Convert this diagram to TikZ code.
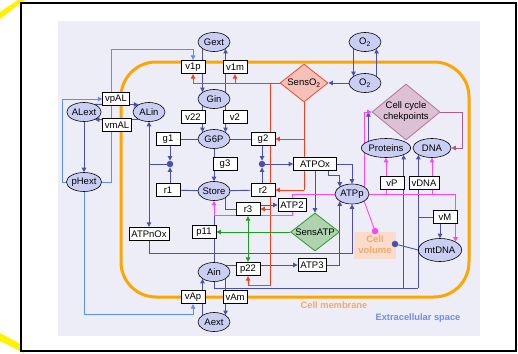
\documentclass[tikz,border=0pt]{standalone}
\usepackage{fontspec}
\setmainfont{Liberation Sans}
\usetikzlibrary{shapes.geometric,arrows.meta,calc}
\pgfdeclarelayer{bg}
\pgfdeclarelayer{edges}
\pgfsetlayers{bg,edges,main}
\definecolor{ellfill}{HTML}{C9CEF2}
\definecolor{lav}{HTML}{EDEDF8}
\definecolor{cblue}{HTML}{4A50B2}
\definecolor{clblue}{HTML}{5B8FF5}
\definecolor{cred}{HTML}{FF3A1A}
\definecolor{cgreen}{HTML}{1E9E1E}
\definecolor{cmag}{HTML}{FF44FF}
\definecolor{cmauve}{HTML}{B05A8A}
\definecolor{memb}{HTML}{FFA500}
\definecolor{membtxt}{HTML}{F5A86E}
\definecolor{extxt}{HTML}{6E8CF0}
\definecolor{volfill}{HTML}{F9DCCC}
\definecolor{sofill}{HTML}{F5C0B8}
\definecolor{sodraw}{HTML}{F04A2A}
\definecolor{ccfill}{HTML}{DCC0D3}
\definecolor{ccdraw}{HTML}{B5719A}
\definecolor{safill}{HTML}{AED3AE}
\definecolor{sadraw}{HTML}{2E9A2E}
\definecolor{yel}{HTML}{FFF200}
\begin{document}
\begin{tikzpicture}[x=1pt,y=-1pt,
  every node/.style={font=\fontsize{9.5}{11}\selectfont},
  ell/.style={ellipse,draw=black,line width=0.6pt,fill=ellfill,minimum width=32pt,minimum height=19pt,inner sep=0pt},
  box/.style={rectangle,draw=black,line width=0.8pt,fill=white,minimum width=24pt,minimum height=13.5pt,inner xsep=2.5pt,inner ysep=0pt},
  dia/.style={diamond,inner sep=0pt,line width=0.8pt},
  arr/.style={-{Triangle[length=4.5pt,width=4.5pt]}},
  lnb/.style={draw=cblue,line width=0.9pt},
  lnlb/.style={draw=clblue,line width=0.9pt},
  lnr/.style={draw=cred,line width=0.9pt},
  lng/.style={draw=cgreen,line width=0.9pt},
  lnm/.style={draw=cmag,line width=0.9pt},
  lnv/.style={draw=cmauve,line width=0.9pt},
  jdot/.style={circle,fill=cblue,inner sep=0pt,minimum size=6.5pt},
  pdot/.style={circle,fill=cmag,inner sep=0pt,minimum size=6.5pt}
]
\useasboundingbox (0,0) rectangle (518,353);
% background
\begin{pgfonlayer}{bg}
\fill[yel] (0,12) -- (18,0) -- (25,0) -- (0,19) -- cycle;
\fill[yel] (0,333) -- (24,346) -- (24,353) -- (0,341) -- cycle;
\draw[line width=2.4pt,fill=white] (21,3) rectangle (516,351);
\fill[lav] (58,21) rectangle (480,336);
\draw[memb,line width=3pt,rounded corners=35pt] (121,62) rectangle (469,297);
\end{pgfonlayer}

% ellipses
\node[ell] (Gext) at (214,42) {Gext};
\node[ell] (Gin) at (214,99) {Gin};
\node[ell] (G6P) at (214,139) {G6P};
\node[ell] (Store) at (214,191) {Store};
\node[ell] (Ain) at (214,272) {Ain};
\node[ell] (Aext) at (214,322) {Aext};
\node[ell] (ALext) at (84,112) {ALext};
\node[ell] (ALin) at (149,112) {ALin};
\node[ell] (pHext) at (84,182) {pHext};
\node[ell] (O2t) at (365,42) {O\textsubscript{2}};
\node[ell] (O2b) at (365,83) {O\textsubscript{2}};
\node[ell,minimum width=38pt] (Proteins) at (386,148) {Proteins};
\node[ell,minimum width=38pt] (DNA) at (432,148) {DNA};
\node[ell,minimum width=34pt,minimum height=20pt] (ATPp) at (352,194) {ATPp};
\node[ell,minimum width=40pt,minimum height=23pt] (mtDNA) at (440,250) {mtDNA};

% boxes
\node[box] (v1p) at (193,67) {v1p};
\node[box] (v1m) at (235,67) {v1m};
\node[box] (vpAL) at (116,99) {vpAL};
\node[box] (vmAL) at (117,125) {vmAL};
\node[box] (v22) at (193,117) {v22};
\node[box] (v2) at (235,117) {v2};
\node[box] (g1) at (168,139) {g1};
\node[box] (g2) at (263,139) {g2};
\node[box] (g3) at (225,164) {g3};
\node[box] (r1) at (168,190) {r1};
\node[box] (r2) at (263,190) {r2};
\node[box] (r3) at (248,209) {r3};
\node[box,minimum width=43pt] (ATPOx) at (315,164) {ATPOx};
\node[box] (ATP2) at (292,205) {ATP2};
\node[box] (ATPnOx) at (149,234) {ATPnOx};
\node[box] (p11) at (204,232) {p11};
\node[box] (p22) at (248,269) {p22};
\node[box] (ATP3) at (312,265) {ATP3};
\node[box] (vAp) at (193,297) {vAp};
\node[box] (vAm) at (235,297) {vAm};
\node[box] (vP) at (392,183) {vP};
\node[box] (vDNA) at (424,183) {vDNA};
\node[box] (vM) at (445,217) {vM};

% diamonds
\node[dia,draw=sodraw,fill=sofill,minimum width=48pt,minimum height=38pt] (SensO2) at (304,83) {\makebox[0pt]{SensO\textsubscript{2}}};
\node[dia,draw=ccdraw,fill=ccfill,minimum width=68pt,minimum height=56pt] (cc) at (406,112) {\makebox[0pt]{\begin{tabular}{@{}c@{}}Cell cycle\\chekpoints\end{tabular}}};
\node[dia,draw=sadraw,fill=safill,minimum width=49pt,minimum height=38pt] (SensATP) at (315,232) {\makebox[0pt]{SensATP}};

% cell volume
\node[fill=volfill,minimum width=42pt,minimum height=27pt,inner sep=0pt,text=membtxt,font=\fontsize{9.5}{11}\selectfont\bfseries,align=center] (vol) at (375,245) {Cell\\volume};

% dots
\node[jdot] (d1) at (170,164) {};
\node[jdot] (d2) at (262,164) {};
\node[pdot] (pd) at (375,231) {};
\node[jdot] (bd) at (395,244) {};

% labels
\node[text=membtxt,font=\fontsize{9.3}{11}\selectfont\bfseries] (lmemb) at (334,305) {Cell membrane};
\node[text=extxt,font=\fontsize{9.3}{11}\selectfont\bfseries] (lext) at (418,318) {Extracellular space};

% helper coordinates
\coordinate (m1) at (292,215);
\coordinate (bl) at (214,288);
\coordinate (ltop) at (111,49);
\coordinate (lbot) at (84,314);
\coordinate (rv) at (270,83);
\coordinate (rb) at (270,285);
\coordinate (gj) at (248,232);

\begin{pgfonlayer}{edges}
% glucose
\draw[lnb,arr] (Gext.south west) -- (Gin.north west);
\draw[lnb,arr] (Gin.north east) -- (Gext.south east);
\draw[lnb,arr] (Gin.south west) -- (G6P.north west);
\draw[lnb,arr] (Gin.south east) -- (G6P.north east);
\draw[lnb] (g1) -- (G6P) -- (g2);
\draw[lnb,arr] (G6P.south) -- (Store.north);
\draw[lnb] (r1) -- (Store) -- (r2);
\draw[lnb,arr] (g1.south -| d1) -- (d1.north);
\draw[lnb,arr] (r1.north -| d1) -- (d1.south);
\draw[lnb,arr] (g2.south -| d2) -- (d2.north);
\draw[lnb,arr] (r2.north -| d2) -- (d2.south);
\draw[lnb] (d1) -- (ALin |- d1);
\draw[lnb,arr] (ALin |- d1) -- (ALin.south);
\draw[lnb,arr] (ALin |- d1) -- (ATPnOx.north);
\draw[lnb,arr] (d2) -- (ATPOx.west);
% ATP
\draw[lnb,arr] (ATPOx.south) -- (SensATP.north);
\draw[lnb,arr] (ATPOx.east) -| (ATPp.north);
\draw[lnb,arr] ([xshift=13pt]ATPOx.south) -- ++(0,4) -| (ATPp.north west);
\draw[lnb,arr] (ATP3.east) -| (ATPp.south west);
\draw[lnb,arr] (ATPnOx.south) -- ++(0,12) -| (ATPp.south);
\draw[lnb,arr] (Ain.center |- ATP3.west) -- (ATP3.west);
\draw[lnb] (Ain.north) -- (Ain.north |- m1);
\draw[lnb] (Store.south east) |- (r3.west);
\draw[lnb,arr] (r3.east |- ATP2.west) -- (ATP2.west);
% A transport
\draw[lnb,arr] (Aext.north west) -- (Ain.south west);
\draw[lnb,arr] (Ain.south east) -- (Aext.north east);
\draw[lnb] (Ain.south) |- (DNA.south west |- bl);
\draw[lnb,arr] (Proteins.south east |- bl) -- (Proteins.south east);
\draw[lnb,arr] (DNA.south west |- bl) -- (DNA.south west);
\draw[lnb] (DNA.south west |- vM.west) -- (vM.west);
\draw[lnb,arr] (vM.south -| mtDNA.north) -- (mtDNA.north);
\draw[lnb] (mtDNA.west) -- (bd);
\draw[lnb,arr] (Proteins.north west) -- (Proteins.north west |- cc.west);
% O2
\draw[lnb,arr] (O2t.south west) -- (O2b.north west);
\draw[lnb,arr] (O2b.north east) -- (O2t.south east);
\draw[lnb,arr] (O2b.west) -- (SensO2.east);
% AL
\draw[lnb,arr] (ALext.south) -- (pHext.north);
\draw[lnb,arr] (ALext.35) -- (ALin.145);
\draw[lnb,arr] (ALin.215) -- (ALext.325);
\draw[lnlb,arr] (pHext.west) -- ++(-4,0) |- (vpAL.west);
\draw[lnlb,arr] (pHext.east) -| (ltop) -| (v1p.north);
\draw[lnlb,arr] (pHext.south) -- (lbot) -| (vAp.south);
% red
\draw[lnr] (SensO2.west) -- (v1p.south |- SensO2.west);
\draw[lnr,arr] (v1p.south |- SensO2.west) -- (v1p.south);
\draw[lnr,arr] (v1m.south |- SensO2.west) -- (v1m.south);
\draw[lnr,arr] (rv) -- (rb) -| (p22.south);
\draw[lnr,arr] (rv |- r3.east) -- (r3.east);
\draw[lnr] (SensO2.south) -- (SensO2.south |- r2.east);
\draw[lnr,arr] (SensO2.south |- g2.east) -- (g2.east);
\draw[lnr,arr] (SensO2.south |- r2.east) -- (r2.east);
% green
\draw[lng,arr] (SensATP.west) -- (p11.east);
\draw[lng,arr] (gj) -- (r3.south);
\draw[lng,arr] (gj) -- (p22.north);
% magenta
\draw[lnm,arr] (ATPp.west) -| (m1) -| (Store.south);
\draw[lnm,arr] (ATPp.east) -| (mtDNA.north east);
\draw[lnm,arr] (Proteins.south |- ATPp.east) -- (Proteins.south);
\draw[lnm,arr] (DNA.south |- ATPp.east) -- (DNA.south);
\draw[lnm,arr] (ATPp.north east) |- (cc.west);
\draw[lnm] (ATPp.south east) -- (pd);
% mauve
\draw[lnv,arr] (cc.east) -- ++(22,0) |- (DNA.east);
\end{pgfonlayer}
\end{tikzpicture}
\end{document}
